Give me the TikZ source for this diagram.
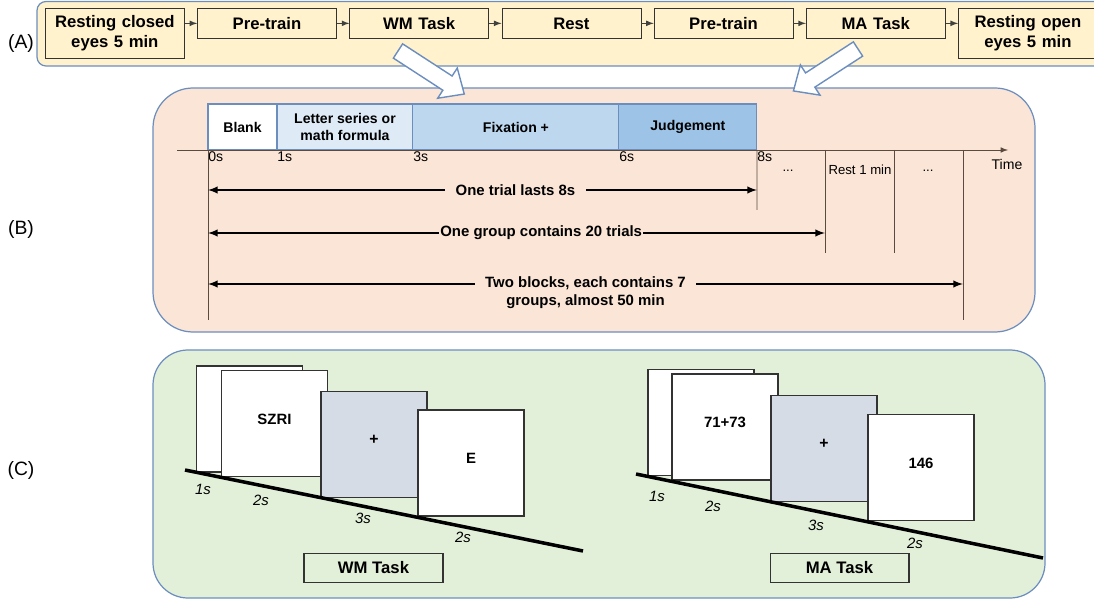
\documentclass[tikz,border=0pt]{standalone}
\usepackage{fontspec}
\setmainfont{Liberation Sans}
\usetikzlibrary{positioning, arrows}

\definecolor{paneledge}{HTML}{6C8EBF}
\definecolor{paneA}{HTML}{FFF2CC}
\definecolor{paneB}{HTML}{FBE5D6}
\definecolor{paneC}{HTML}{E2F0D9}
\definecolor{phaseA}{HTML}{DEEBF7}
\definecolor{phaseB}{HTML}{BDD7EE}
\definecolor{phaseC}{HTML}{9DC3E6}
\definecolor{fixgray}{HTML}{D6DCE5}
\definecolor{gridc}{HTML}{5A4A3F}

\tikzstyle{panel} = [draw=paneledge, line width=0.7pt]
\tikzstyle{panellabel} = [font=\fontsize{11}{13}\selectfont]
\tikzstyle{stage} = [rectangle, text width=2.6cm, minimum width=2.78cm, minimum height=0.6cm, text centered, inner sep=0pt, draw=black!80, fill=paneA, font=\bfseries\fontsize{9.5}{11}\selectfont]
\tikzstyle{flow} = [->, >=latex, draw=black!75, line width=0.5pt]
\tikzstyle{hollow} = [draw=paneledge, fill=white, line width=0.8pt, line join=miter]
\tikzstyle{phase} = [rectangle, minimum height=0.92cm, align=center, inner sep=0pt, outer sep=0pt, draw=paneledge, line width=0.6pt, font=\bfseries\fontsize{8}{10}\selectfont]
\tikzstyle{tick} = [anchor=north west, inner ysep=1pt, inner xsep=0pt, font=\fontsize{8}{10}\selectfont]
\tikzstyle{note} = [inner sep=1pt, font=\fontsize{7.5}{9}\selectfont]
\tikzstyle{grid} = [draw=gridc, line width=0.45pt]
\tikzstyle{arrow} = [line width=0.9pt, <->, >=latex]
\tikzstyle{span} = [fill=paneB, inner ysep=1pt, inner xsep=6pt, align=center, font=\bfseries\fontsize{8.5}{10.5}\selectfont]
\tikzstyle{screen} = [rectangle, minimum width=2.12cm, minimum height=2.12cm, text depth=0.17cm, draw=black!80, fill=white, line width=0.6pt, font=\bfseries\fontsize{8.5}{10}\selectfont]
\tikzstyle{timeline} = [line width=2pt]
\tikzstyle{dur} = [inner sep=1pt, font=\itshape\fontsize{8.5}{10}\selectfont]
\tikzstyle{taskbox} = [rectangle, minimum width=2.78cm, minimum height=0.58cm, draw=black!80, line width=0.6pt, font=\bfseries\fontsize{9.5}{11}\selectfont]

\begin{document}
\begin{tikzpicture}[x=0.02cm, y=-0.02cm, node distance=0.25cm]
\useasboundingbox (0,0) rectangle (1094,604);

% panels
\draw[panel, fill=paneA, rounded corners=0.18cm] (37,1.5) rectangle (1120,66);
\draw[panel, fill=paneB, rounded corners=0.8cm] (153,88) rectangle (1035,332);
\draw[panel, fill=paneC, rounded corners=0.7cm] (153,350) rectangle (1045,598);

\node (labA) [panellabel] at (21,44) {(A)};
\node (labB) [panellabel] at (21,230) {(B)};
\node (labC) [panellabel] at (21,470) {(C)};

% (A) session
\node (rc) [stage, minimum height=1cm, anchor=north west] at (45,8) {Resting closed\\eyes 5 min};
\node (pt1) [stage, right=of rc.north east, anchor=north west] {Pre-train};
\node (wm) [stage, right=of pt1.north east, anchor=north west] {WM Task};
\node (rest) [stage, right=of wm.north east, anchor=north west] {Rest};
\node (pt2) [stage, right=of rest.north east, anchor=north west] {Pre-train};
\node (ma) [stage, right=of pt2.north east, anchor=north west] {MA Task};
\node (ro) [stage, minimum height=1cm, right=of ma.north east, anchor=north west] {Resting open\\eyes 5 min};

\draw [flow] (rc.east |- pt1.west) -- (pt1.west);
\draw [flow] (pt1) -- (wm);
\draw [flow] (wm) -- (rest);
\draw [flow] (rest) -- (pt2);
\draw [flow] (pt2) -- (ma);
\draw [flow] (ma.east) -- (ro.west |- ma.east);

% zoom arrows
\begin{scope}[shift={(398,51)}, rotate=-33]
\draw [hollow] (0,-8.5) -- (59,-8.5) -- (59,-18) -- (79,0) -- (59,18) -- (59,8.5) -- (0,8.5) -- cycle;
\end{scope}
\begin{scope}[shift={(858,49)}, rotate=-147]
\draw [hollow] (0,-8.5) -- (57,-8.5) -- (57,-18) -- (77,0) -- (57,18) -- (57,8.5) -- (0,8.5) -- cycle;
\end{scope}

% (B) one trial
\node (blank) [phase, fill=white, minimum width=1.38cm, anchor=south west] at (208,150) {Blank};
\node (letter) [phase, fill=phaseA, minimum width=2.72cm, right=0cm of blank] {Letter series or\\math formula};
\node (fix) [phase, fill=phaseB, minimum width=4.12cm, right=0cm of letter] {Fixation +};
\node (judge) [phase, fill=phaseC, minimum width=2.76cm, right=0cm of fix] {Judgement};

\coordinate (axisL) at (177,150);
\coordinate (axisR) at (1008,150);
\draw [grid, ->, >=latex] (axisL) -- (axisR);

\node (t0) [tick] at (blank.south west) {0s};
\node (t1) [tick] at (letter.south west) {1s};
\node (t3) [tick] at (fix.south west) {3s};
\node (t6) [tick] at (judge.south west) {6s};
\node (t8) [tick] at (judge.south east) {8s};

\coordinate (v0) at (208,320);
\coordinate (v8) at (757,210);
\coordinate (vg) at (825,253);
\coordinate (vr) at (894,253);
\coordinate (vb) at (963,320);
\draw [grid] (blank.south west) -- (v0);
\draw [grid] (judge.south east) -- (v8);
\draw [grid] (vg |- axisL) -- (vg);
\draw [grid] (vr |- axisL) -- (vr);
\draw [grid] (vb |- axisL) -- (vb);

\node (dots1) [note] at (788,171) {...};
\node (restLbl) [note] at (860,170) {Rest 1 min};
\node (dots2) [note] at (928,171) {...};
\node (timeLbl) [note, font=\fontsize{8}{10}\selectfont] at (1007,164) {Time};

\coordinate (r1) at (0,190);
\coordinate (r2) at (0,233);
\coordinate (r3) at (0,284);
\draw [arrow] (v0 |- r1) -- node [span, pos=0.56] {One trial lasts 8s} (v8 |- r1);
\draw [arrow] (v0 |- r2) -- node [span, pos=0.54, inner xsep=0.5pt] {One group contains 20 trials} (vg |- r2);
\draw [arrow] (v0 |- r3) -- node [span, pos=0.5, yshift=-0.17cm] {Two blocks, each contains 7\\groups, almost 50 min} (vb |- r3);

% (C) WM task
\node (wmBack) [screen] at (249.5,419) {};
\node (wmStim) [screen] at (274.5,423.5) {SZRI};
\node (wmFix) [screen, fill=fixgray, font=\bfseries\fontsize{9}{10}\selectfont] at (374,444.5) {+};
\node (wmProbe) [screen] at (471,463) {E};
\coordinate (wmL) at (185,470);
\coordinate (wmR) at (583,551);
\draw [timeline] (wmL) -- (wmR);
\node (wmD1) [dur] at (203,489) {1s};
\node (wmD2) [dur] at (261,500) {2s};
\node (wmD3) [dur] at (363,518) {3s};
\node (wmD4) [dur] at (463,537) {2s};
\node (wmTask) [taskbox] at (373.5,568) {WM Task};

% (C) MA task
\node (maBack) [screen] at (701,422.5) {};
\node (maStim) [screen] at (725,427) {71+73};
\node (maFix) [screen, fill=fixgray, font=\bfseries\fontsize{9}{10}\selectfont] at (824,448.5) {+};
\node (maProbe) [screen] at (921,467.5) {146};
\coordinate (maL) at (636,474);
\coordinate (maR) at (1043,558);
\draw [timeline] (maL) -- (maR);
\node (maD1) [dur] at (657,496) {1s};
\node (maD2) [dur] at (713,506) {2s};
\node (maD3) [dur] at (816,525) {3s};
\node (maD4) [dur] at (915,543) {2s};
\node (maTask) [taskbox] at (839.5,568) {MA Task};

\end{tikzpicture}
\end{document}
